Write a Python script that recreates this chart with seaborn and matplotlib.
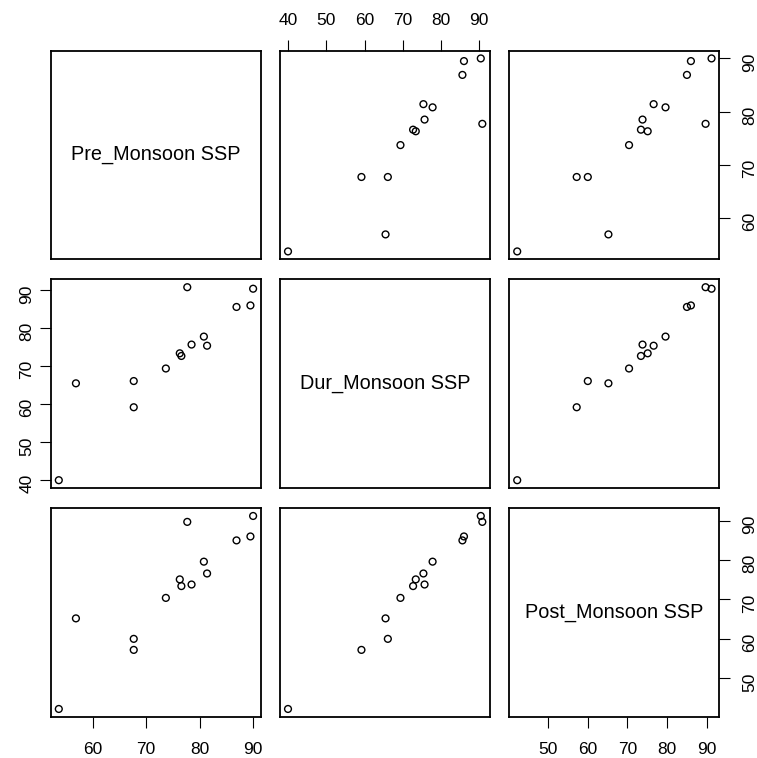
import matplotlib
matplotlib.use("Agg")
import matplotlib.pyplot as plt
import pandas as pd
import seaborn as sns

# Seasonal SSP values per station
pre_monsoon = [53.7, 67.7, 67.7, 56.9, 73.7, 76.6, 78.5, 76.3, 81.4, 80.8, 86.9, 89.5, 77.7, 90.0]
dur_monsoon = [40.0, 59.2, 66.1, 65.5, 69.4, 72.7, 75.7, 73.4, 75.4, 77.8, 85.6, 86.0, 90.8, 90.4]
post_monsoon = [42.2, 57.2, 60.0, 65.2, 70.4, 73.4, 73.8, 75.1, 76.6, 79.6, 85.0, 86.0, 89.7, 91.2]

var_names = ["Pre_Monsoon SSP", "Dur_Monsoon SSP", "Post_Monsoon SSP"]
pre_ticks = [60, 70, 80, 90]
dur_ticks = [40, 50, 60, 70, 80, 90]
post_ticks = [50, 60, 70, 80, 90]
tick_sets = [pre_ticks, dur_ticks, post_ticks]

df = pd.DataFrame({var_names[0]: pre_monsoon,
                   var_names[1]: dur_monsoon,
                   var_names[2]: post_monsoon})

sns.set_style("white")
plt.rcParams["font.family"] = ["Liberation Sans", "DejaVu Sans"]
plt.rcParams["axes.edgecolor"] = "black"

g = sns.PairGrid(df, height=2.5, despine=False)
g.map_offdiag(sns.scatterplot, color="black", facecolors="none",
              edgecolor="black", s=24, linewidth=1.0)

fig = g.figure
fig.set_size_inches(7.57, 7.58)

# axis ranges padded by 4% of the data span, shared along rows/columns
for k, name in enumerate(var_names):
    v = df[name]
    lo, hi = v.min(), v.max()
    pad = 0.04 * (hi - lo)
    g.axes[0, k].set_xlim(lo - pad, hi + pad)
    g.axes[0, k].set_xticks(tick_sets[k])
    g.axes[k, 0].set_ylim(lo - pad, hi + pad)
    g.axes[k, 0].set_yticks(tick_sets[k])

for i in range(3):
    for j in range(3):
        ax = g.axes[i, j]
        ax.set_xlabel("")
        ax.set_ylabel("")
        ax.tick_params(axis="both", which="both", bottom=False, top=False,
                       left=False, right=False, labelbottom=False,
                       labeltop=False, labelleft=False, labelright=False,
                       direction="out", length=8, width=0.8,
                       labelsize=12.5, colors="black")
        for sp in ax.spines.values():
            sp.set_linewidth(1.3)
            sp.set_color("black")

# alternating outer axes
g.axes[0, 1].tick_params(axis="x", top=True, labeltop=True, pad=8.5)
g.axes[2, 0].tick_params(axis="x", bottom=True, labelbottom=True, pad=10)
g.axes[2, 2].tick_params(axis="x", bottom=True, labelbottom=True, pad=10)
g.axes[1, 0].tick_params(axis="y", left=True, labelleft=True, pad=4,
                         labelrotation=90)
g.axes[0, 2].tick_params(axis="y", right=True, labelright=True, pad=8.5,
                         labelrotation=90)
g.axes[2, 2].tick_params(axis="y", right=True, labelright=True, pad=8.5,
                         labelrotation=90)

# variable names on the diagonal
for k, name in enumerate(var_names):
    g.axes[k, k].text(0.5, 0.5, name, transform=g.axes[k, k].transAxes,
                      ha="center", va="center", fontsize=14.3, color="black")

fig.subplots_adjust(left=0.0674, right=0.9502, bottom=0.0545, top=0.9331,
                    wspace=0.0922, hspace=0.0976)
fig.savefig("out.png", dpi=100)
